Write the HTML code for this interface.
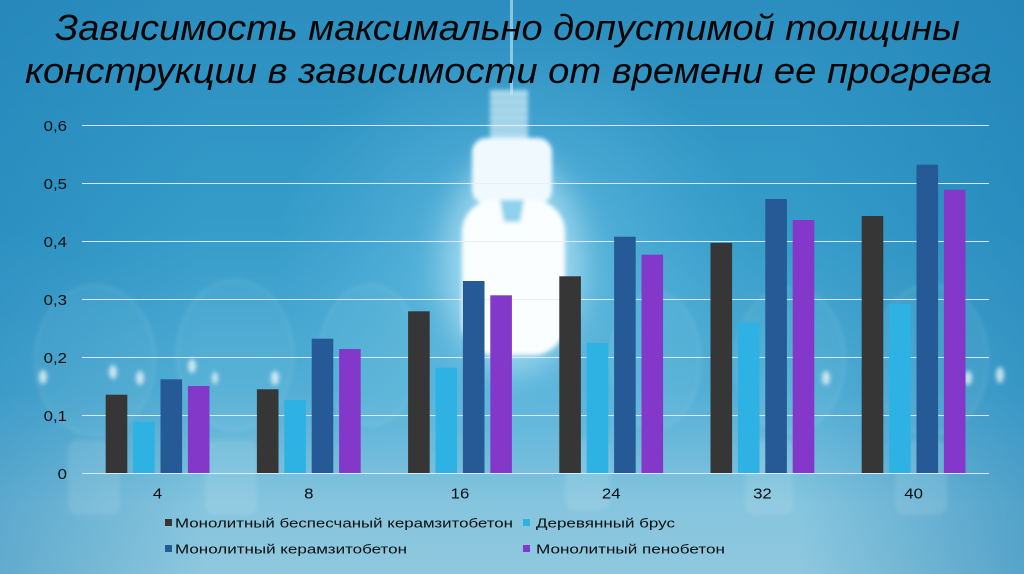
<!DOCTYPE html>
<html>
<head>
<meta charset="utf-8">
<style>
  html,body{margin:0;padding:0;background:#2E93C3;}
  svg{display:block;}
</style>
</head>
<body>
<svg width="1024" height="574" viewBox="0 0 1024 574" xmlns="http://www.w3.org/2000/svg" font-family="'Liberation Sans', Arial, 'Noto Sans CJK SC', sans-serif">
  <defs>
    <linearGradient id="bg" x1="0" y1="0" x2="0" y2="1">
      <stop offset="0" stop-color="#2B8EBF"/>
      <stop offset="0.4" stop-color="#359CC9"/>
      <stop offset="0.68" stop-color="#52AED5"/>
      <stop offset="0.88" stop-color="#86C5DE"/>
      <stop offset="1" stop-color="#8EC8DE"/>
    </linearGradient>
    <linearGradient id="edge" x1="0" y1="0" x2="1" y2="0">
      <stop offset="0" stop-color="#1E7FB5" stop-opacity="0.4"/>
      <stop offset="0.2" stop-color="#1E7FB5" stop-opacity="0"/>
      <stop offset="0.78" stop-color="#1E7FB5" stop-opacity="0"/>
      <stop offset="1" stop-color="#1E7FB5" stop-opacity="0.5"/>
    </linearGradient>
    <radialGradient id="glow" cx="515" cy="260" r="240" gradientUnits="userSpaceOnUse">
      <stop offset="0" stop-color="#A8E4F8" stop-opacity="0.6"/>
      <stop offset="0.45" stop-color="#80CFEF" stop-opacity="0.3"/>
      <stop offset="1" stop-color="#6CC4EA" stop-opacity="0"/>
    </radialGradient>
    <filter id="b2" x="-20%" y="-20%" width="140%" height="140%"><feGaussianBlur stdDeviation="2"/></filter>
    <filter id="b16" x="-50%" y="-50%" width="200%" height="200%"><feGaussianBlur stdDeviation="14"/></filter>
  </defs>

  <!-- background -->
  <rect x="0" y="0" width="1024" height="574" fill="url(#bg)"/>
  <rect x="0" y="0" width="1024" height="574" fill="url(#edge)"/>
  <rect x="0" y="0" width="1024" height="574" fill="url(#glow)"/>

  <!-- faint incandescent bulbs -->
  <g fill="#CFEAF5" fill-opacity="0.06" stroke="#E8F6FB" stroke-opacity="0.12" stroke-width="2" filter="url(#b2)">
    <ellipse cx="95" cy="360" rx="60" ry="75"/>
    <ellipse cx="235" cy="355" rx="58" ry="75"/>
    <ellipse cx="370" cy="355" rx="50" ry="70"/>
    <ellipse cx="655" cy="360" rx="45" ry="68"/>
    <ellipse cx="790" cy="360" rx="55" ry="72"/>
    <ellipse cx="930" cy="360" rx="58" ry="75"/>
  </g>
  <g fill="#E5F4FA" fill-opacity="0.12" filter="url(#b2)">
    <rect x="68" y="440" width="52" height="75" rx="10"/>
    <rect x="205" y="440" width="52" height="75" rx="10"/>
    <rect x="565" y="440" width="45" height="70" rx="10"/>
    <rect x="745" y="440" width="48" height="75" rx="10"/>
    <rect x="895" y="440" width="52" height="75" rx="10"/>
  </g>
  <!-- specular highlights -->
  <g fill="#FFFFFF" fill-opacity="0.7" filter="url(#b2)">
    <ellipse cx="43" cy="377" rx="4" ry="7"/>
    <ellipse cx="113" cy="372" rx="4" ry="7"/>
    <ellipse cx="140" cy="378" rx="4" ry="7"/>
    <ellipse cx="192" cy="366" rx="4" ry="7"/>
    <ellipse cx="215" cy="378" rx="3" ry="6"/>
    <ellipse cx="275" cy="378" rx="4" ry="7"/>
    <ellipse cx="1000" cy="375" rx="4" ry="8"/>
    <ellipse cx="826" cy="378" rx="4" ry="7"/>
    <ellipse cx="968" cy="378" rx="4" ry="7"/>
  </g>

  <!-- central CFL bulb -->
  <g>
    <ellipse cx="513" cy="265" rx="70" ry="110" fill="#D8F4FF" fill-opacity="0.45" filter="url(#b16)"/>
    <rect x="510" y="0" width="3" height="95" fill="#D8F0FA" fill-opacity="0.55"/>
    <g filter="url(#b2)">
      <rect x="490" y="90" width="38" height="52" fill="#C6E7F4" fill-opacity="0.8"/>
      <g stroke="#84C6E1" stroke-width="2">
        <line x1="490" y1="98" x2="528" y2="98"/>
        <line x1="490" y1="106" x2="528" y2="106"/>
        <line x1="490" y1="114" x2="528" y2="114"/>
        <line x1="490" y1="122" x2="528" y2="122"/>
        <line x1="490" y1="130" x2="528" y2="130"/>
      </g>
      <rect x="472" y="138" width="80" height="66" rx="14" fill="#F0FAFE"/>
      <rect x="462" y="200" width="103" height="155" rx="32" fill="#FAFEFF"/>
      <path d="M500 200 L524 200 L520 222 L504 222 Z" fill="#8ED2EC"/>
    </g>
  </g>

  <!-- title -->
  <g font-style="italic" font-size="36" fill="#050505">
    <text x="55" y="40" textLength="905" lengthAdjust="spacingAndGlyphs">Зависимость максимально допустимой толщины</text>
    <text x="25" y="83" textLength="967" lengthAdjust="spacingAndGlyphs">конструкции в зависимости от времени ее прогрева</text>
  </g>

  <!-- gridlines -->
  <g stroke="#E4F1F7" stroke-opacity="0.9" stroke-width="1">
    <line x1="82" y1="125.5" x2="989" y2="125.5"/>
    <line x1="82" y1="183.5" x2="989" y2="183.5"/>
    <line x1="82" y1="241.5" x2="989" y2="241.5"/>
    <line x1="82" y1="299.5" x2="989" y2="299.5"/>
    <line x1="82" y1="357.5" x2="989" y2="357.5"/>
    <line x1="82" y1="415.5" x2="989" y2="415.5"/>
    <line x1="82" y1="473.5" x2="989" y2="473.5"/>
  </g>

  <!-- y labels -->
  <g font-size="15" fill="#0D0D0D" text-anchor="end">
    <text transform="translate(67,131) scale(1.12,1)">0,6</text>
    <text transform="translate(67,189) scale(1.12,1)">0,5</text>
    <text transform="translate(67,247) scale(1.12,1)">0,4</text>
    <text transform="translate(67,305) scale(1.12,1)">0,3</text>
    <text transform="translate(67,363) scale(1.12,1)">0,2</text>
    <text transform="translate(67,421) scale(1.12,1)">0,1</text>
    <text transform="translate(67,479) scale(1.12,1)">0</text>
  </g>

  <!-- bars -->
  <rect x="105.7" y="394.7" width="21.6" height="78.3" fill="#363636"/>
  <rect x="133.1" y="421.7" width="21.6" height="51.3" fill="#2EB2E4"/>
  <rect x="160.5" y="379.3" width="21.6" height="93.7" fill="#255A96"/>
  <rect x="187.9" y="386" width="21.6" height="87" fill="#8338C9"/>

  <rect x="256.9" y="389.3" width="21.6" height="83.7" fill="#363636"/>
  <rect x="284.3" y="400" width="21.6" height="73" fill="#2EB2E4"/>
  <rect x="311.7" y="338.7" width="21.6" height="134.3" fill="#255A96"/>
  <rect x="339.1" y="349" width="21.6" height="124" fill="#8338C9"/>

  <rect x="408.1" y="311.3" width="21.6" height="161.7" fill="#363636"/>
  <rect x="435.5" y="367.7" width="21.6" height="105.3" fill="#2EB2E4"/>
  <rect x="462.9" y="281" width="21.6" height="192" fill="#255A96"/>
  <rect x="490.3" y="295.3" width="21.6" height="177.7" fill="#8338C9"/>

  <rect x="559.3" y="276.3" width="21.6" height="196.7" fill="#363636"/>
  <rect x="586.7" y="343" width="21.6" height="130" fill="#2EB2E4"/>
  <rect x="614.1" y="236.7" width="21.6" height="236.3" fill="#255A96"/>
  <rect x="641.5" y="254.7" width="21.6" height="218.3" fill="#8338C9"/>

  <rect x="710.5" y="243" width="21.6" height="230" fill="#363636"/>
  <rect x="737.9" y="322.3" width="21.6" height="150.7" fill="#2EB2E4"/>
  <rect x="765.3" y="199" width="21.6" height="274" fill="#255A96"/>
  <rect x="792.7" y="220" width="21.6" height="253" fill="#8338C9"/>

  <rect x="861.7" y="216" width="21.6" height="257" fill="#363636"/>
  <rect x="889.1" y="304" width="21.6" height="169" fill="#2EB2E4"/>
  <rect x="916.5" y="164.7" width="21.6" height="308.3" fill="#255A96"/>
  <rect x="943.9" y="189.7" width="21.6" height="283.3" fill="#8338C9"/>

  <!-- x labels -->
  <g font-size="15" fill="#0D0D0D" text-anchor="middle">
    <text transform="translate(157.6,498.5) scale(1.12,1)">4</text>
    <text transform="translate(308.8,498.5) scale(1.12,1)">8</text>
    <text transform="translate(460,498.5) scale(1.12,1)">16</text>
    <text transform="translate(611.2,498.5) scale(1.12,1)">24</text>
    <text transform="translate(762.4,498.5) scale(1.12,1)">32</text>
    <text transform="translate(913.6,498.5) scale(1.12,1)">40</text>
  </g>

  <!-- legend -->
  <rect x="165" y="519" width="7" height="7" fill="#363636"/>
  <rect x="523" y="519" width="7" height="7" fill="#2EB2E4"/>
  <rect x="165" y="545" width="7" height="7" fill="#255A96"/>
  <rect x="523" y="545" width="7" height="7" fill="#8338C9"/>
  <g font-size="13" fill="#0D0D0D">
    <text x="175" y="527.7" textLength="338" lengthAdjust="spacingAndGlyphs">Монолитный беспесчаный керамзитобетон</text>
    <text x="536" y="527.7" textLength="139" lengthAdjust="spacingAndGlyphs">Деревянный брус</text>
    <text x="175" y="553.3" textLength="232" lengthAdjust="spacingAndGlyphs">Монолитный керамзитобетон</text>
    <text x="536" y="553.3" textLength="189" lengthAdjust="spacingAndGlyphs">Монолитный пенобетон</text>
  </g>
</svg>
</body>
</html>
